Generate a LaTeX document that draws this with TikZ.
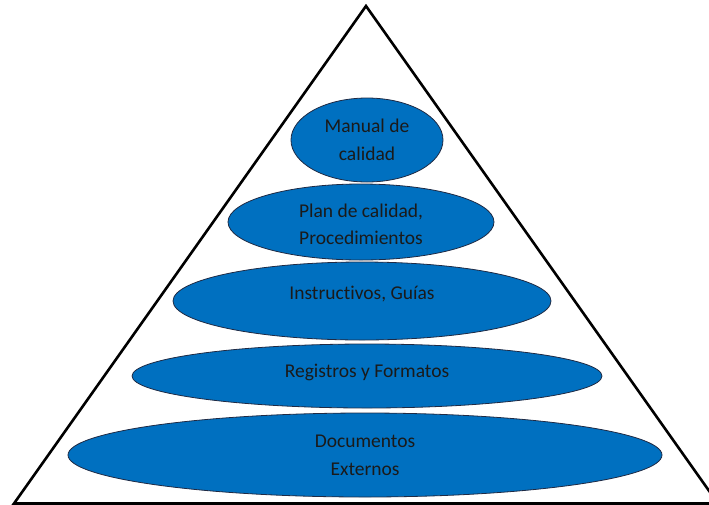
\documentclass[tikz,border=0pt]{standalone}
\usepackage{fontspec}
\setmainfont{Carlito}[Ligatures={NoCommon}]
\usetikzlibrary{shapes.geometric}
\definecolor{ellblue}{HTML}{0070C0}
\definecolor{ellborder}{HTML}{1F2A44}
\definecolor{txt}{HTML}{1A1A1A}
\newcommand{\shiftup}[2]{\raisebox{#1}[\height][\depth]{#2}}
\begin{document}
\begin{tikzpicture}[x=1pt,y=-1pt,
  layer/.style={ellipse, fill=ellblue, draw=ellborder, line width=0.8pt, text=txt, align=center, font=\fontsize{19.5}{28}\selectfont, inner sep=0pt}]
\useasboundingbox (0,0) rectangle (709,504);
\clip (0,0) rectangle (709,504);
\coordinate (apex) at (366,6);
\coordinate (bl) at (14,503.5);
\coordinate (br) at (718,503.5);
\draw[line width=2.6pt, line join=miter] (bl) -- (apex) -- (br) -- cycle;
\node[layer, minimum width=152pt, minimum height=84pt] (e1) at (367,140) {Manual de\\calidad};
\node[layer, minimum width=266pt, minimum height=76pt] (e2) at (361,222) {\shiftup{-3pt}{Plan de calidad,}\\\shiftup{-2pt}{Procedimientos}};
\node[layer, minimum width=378pt, minimum height=78pt] (e3) at (362,301) {\shiftup{7pt}{Instructivos, Guías}};
\node[layer, minimum width=470pt, minimum height=64pt] (e4) at (367,376) {\shiftup{4pt}{Registros y Formatos}};
\node[layer, minimum width=594pt, minimum height=84pt] (e5) at (365,455) {Documentos\\Externos};
\end{tikzpicture}
\end{document}
